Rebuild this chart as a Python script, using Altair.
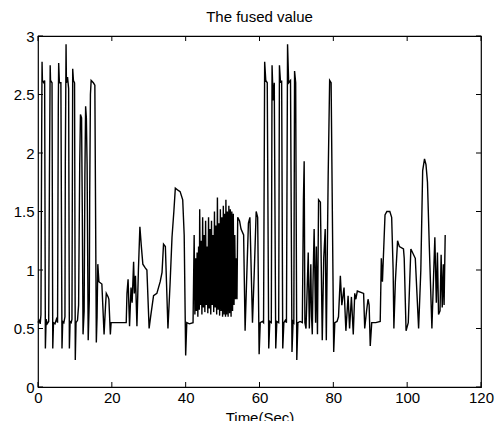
import altair as alt
import pandas as pd

# time (s) and fused value
t = [0, 0.3, 0.6, 0.8, 1.0, 1.1, 1.2, 1.6, 1.8, 2.0, 2.2, 2.5, 2.9, 3.1, 3.3, 3.4, 3.8, 4.0, 4.2, 4.6,
     5.0, 5.3, 5.5, 5.6, 5.8, 6.2, 6.5, 6.7, 7.0, 7.3, 7.4, 7.6, 7.7, 8.0, 8.3, 8.5, 8.7, 9.0, 9.2, 9.4,
     9.6, 9.9, 10.1, 10.3, 10.7, 11.0, 11.3, 11.5, 11.8, 12.0, 12.2, 12.5, 12.7, 12.9, 13.1, 13.3, 13.6,
     13.9, 14.0, 14.2, 14.4, 15.0, 15.4, 15.8, 16.0, 16.2, 16.5, 17.3, 17.9, 18.3, 18.5, 19.0, 19.2,
     19.6, 19.8, 20.5, 22.0, 23.9,
     24.1, 24.4, 24.8, 25.2, 25.5, 25.9, 26.1, 26.4, 26.8, 27.2, 27.6, 28.0, 28.4, 29.0, 29.5, 30.1,
     30.5, 31.3, 32.2, 33.1, 33.6, 34.0, 34.5, 34.8, 35.2, 35.8, 36.3, 36.8, 37.2, 38.0, 38.5, 39.2,
     39.6, 40.0, 40.3, 41.0, 42.0,
     42.3, 42.5, 42.7, 42.9, 43.1, 43.3, 43.5, 43.7, 43.8, 44.0, 44.2, 44.4, 44.6, 44.8, 45.0, 45.2,
     45.4, 45.6, 45.8, 46.0, 46.2, 46.4, 46.6, 46.8, 47.0, 47.2, 47.4, 47.6, 47.8, 48.0, 48.2, 48.4,
     48.6, 48.8, 49.0, 49.2, 49.4, 49.6, 49.8, 50.0, 50.2, 50.4, 50.6, 50.8, 50.9, 51.1, 51.3, 51.5,
     51.7, 51.9, 52.1, 52.3, 52.5, 52.7, 52.9, 53.1, 53.3, 53.5, 53.7, 53.9, 54.1, 54.6, 55.0, 55.7,
     56.1, 56.5, 57.0, 57.4, 58.1, 58.6, 59.1, 59.5, 59.9, 60.2, 60.8, 61.1,
     61.4, 61.7, 62.1, 62.5, 62.8, 63.2, 63.4, 63.7, 64.0, 64.4, 64.7, 65.2, 65.4, 65.7, 66.0, 66.3,
     66.6, 67.0, 67.3, 67.6, 67.9, 68.4, 68.8, 69.1, 69.3, 69.5, 69.8, 70.1, 70.4, 71.0, 71.6, 71.9,
     72.1, 72.3, 72.6, 73.2, 73.5, 73.9, 74.1, 74.3, 74.5, 74.8, 75.2, 75.4, 75.7, 76.0, 76.5, 77.0,
     77.4, 77.8, 78.1, 78.6, 79.0, 79.4, 80.1,
     80.4, 81.0, 81.4, 81.9, 82.3, 82.9, 83.4, 84.0, 84.4, 84.9, 85.4, 85.8, 86.1, 86.5, 88.2, 88.5,
     89.0, 89.4, 89.7, 90.0, 90.4, 91.5, 92.7, 93.0, 93.3, 94.0, 94.5, 95.3, 95.8, 96.2, 96.4, 96.8,
     97.4, 97.9, 99.0, 99.2, 99.7, 100.3, 101.0, 102.2, 103.1, 103.7, 104.2, 104.7, 105.1, 105.5,
     106.0, 106.7, 107.0, 107.5, 107.9, 108.2, 108.5, 108.9, 109.2, 109.5, 109.8, 110.0, 110.3]

v = [0.55, 0.57, 0.54, 0.62, 2.2, 2.78, 2.62, 2.6, 2.62, 0.33, 0.58, 0.54, 0.56, 1.8, 2.75, 2.62, 2.6, 0.33, 0.55, 0.54,
     0.58, 0.55, 2.4, 2.77, 2.6, 2.6, 0.33, 0.56, 0.55, 0.6, 1.9, 2.93, 2.6, 2.65, 2.55, 0.33, 0.56, 0.55, 0.58, 2.72,
     2.62, 2.6, 0.23, 0.55, 0.57, 0.7, 1.9, 2.33, 2.3, 1.5, 0.45, 0.65, 1.8, 2.4, 2.3, 1.9, 0.4,
     0.75, 1.6, 2.5, 2.62, 2.6, 2.58, 0.38, 0.6, 1.05, 0.9, 0.88, 0.45, 0.7, 0.8, 0.77, 0.75,
     0.45, 0.55, 0.55, 0.55, 0.55,
     0.8, 0.92, 0.52, 0.85, 0.72, 1.07, 0.8, 0.95, 0.52, 1.0, 1.37, 1.2, 1.05, 1.02, 1.0, 0.5,
     0.6, 0.78, 0.8, 0.9, 0.98, 1.22, 1.2, 0.9, 0.5, 0.9, 1.28, 1.5, 1.7, 1.68, 1.67, 1.6,
     1.3, 0.27, 0.55, 0.54, 0.55,
     1.3, 0.62, 1.1, 0.65, 1.15, 0.6, 1.2, 0.66, 1.52, 0.7, 1.25, 0.62, 1.45, 0.68, 1.3, 0.64,
     1.42, 0.7, 1.2, 0.63, 1.45, 0.67, 1.35, 0.62, 1.42, 0.7, 1.3, 0.64, 1.5, 0.68, 1.38, 0.62,
     1.62, 0.66, 1.4, 0.61, 1.52, 0.65, 1.45, 0.6, 1.55, 0.62, 1.48, 0.6, 1.6, 0.62, 1.5, 0.6,
     1.55, 0.63, 1.52, 0.6, 1.5, 0.65, 1.48, 0.7, 1.3, 0.75, 1.1, 0.75, 1.45, 1.42, 1.35, 1.3,
     0.48, 0.9, 1.4, 1.45, 0.55, 1.0, 1.5, 1.45, 0.28, 0.55, 0.56, 0.55,
     2.78, 2.62, 2.6, 0.33, 0.56, 0.55, 2.75, 2.45, 2.6, 0.33, 0.56, 0.55, 2.75, 2.6, 2.62, 0.33,
     0.55, 0.57, 0.55, 2.93, 2.6, 2.62, 0.3, 0.56, 0.55, 2.7, 2.6, 0.23, 0.55, 0.56, 0.55, 1.6,
     1.93, 0.55, 0.5, 1.15, 0.5, 1.05, 0.6, 0.45, 0.9, 1.35, 0.55, 1.2, 0.45, 1.6, 1.58, 0.4,
     1.1, 1.35, 0.4, 1.8, 2.62, 2.6, 0.3,
     0.55, 0.56, 0.6, 0.95, 0.7, 0.85, 0.48, 0.78, 0.5, 0.77, 0.45, 0.8, 0.75, 0.82, 0.8, 0.5,
     0.65, 0.75, 0.7, 0.35, 0.55, 0.55, 0.56, 1.1, 0.9, 1.47, 1.5, 1.5, 1.45, 1.0, 0.5, 0.9,
     1.25, 1.2, 1.18, 1.1, 0.48, 0.55, 1.18, 1.1, 0.5, 1.0, 1.85, 1.95, 1.9, 1.75,
     1.2, 0.5, 0.8, 1.28, 0.72, 1.15, 0.62, 0.65, 1.13, 0.68, 1.05, 0.7, 1.3]

x_ticks = [0, 20, 40, 60, 80, 100, 120]
y_ticks = [0, 0.5, 1, 1.5, 2, 2.5, 3]

W, H = 443, 351
FONT = "Liberation Sans"

df = pd.DataFrame({"t": t, "v": v})
dfx = pd.DataFrame({"xt": x_ticks})
dfy = pd.DataFrame({"yt": y_ticks})

xscale = alt.Scale(domain=[0, 120], nice=False, zero=False)
yscale = alt.Scale(domain=[0, 3], nice=False, zero=False)

xaxis = alt.Axis(values=x_ticks, format="d", ticks=False, tickSize=0, domain=False, grid=False,
                 labelFontSize=15, labelFont=FONT, labelColor="black", labelPadding=3,
                 title="Time(Sec)", titleFont=FONT, titleFontSize=15, titleFontWeight="normal",
                 titleColor="black", titlePadding=5, labelFlush=False)
yaxis = alt.Axis(values=y_ticks, ticks=False, tickSize=0, domain=False, grid=False,
                 labelFontSize=15, labelFont=FONT, labelColor="black", labelPadding=4,
                 title=None, labelExpr="datum.value", labelFlush=False)

line = alt.Chart(df).mark_line(color="black", strokeWidth=1.4).encode(
    x=alt.X("t:Q", scale=xscale, axis=xaxis),
    y=alt.Y("v:Q", scale=yscale, axis=yaxis),
)

tick_len = 5
xb = alt.Chart(dfx).mark_rule(color="black", strokeWidth=1).encode(
    x=alt.X("xt:Q", scale=xscale), y=alt.value(H), y2=alt.value(H - tick_len))
xt = alt.Chart(dfx).mark_rule(color="black", strokeWidth=1).encode(
    x=alt.X("xt:Q", scale=xscale), y=alt.value(0), y2=alt.value(tick_len))
yl = alt.Chart(dfy).mark_rule(color="black", strokeWidth=1).encode(
    y=alt.Y("yt:Q", scale=yscale), x=alt.value(0), x2=alt.value(tick_len))
yr = alt.Chart(dfy).mark_rule(color="black", strokeWidth=1).encode(
    y=alt.Y("yt:Q", scale=yscale), x=alt.value(W), x2=alt.value(W - tick_len))

chart = alt.layer(line, xb, xt, yl, yr).properties(
    width=W, height=H,
    title=alt.TitleParams("The fused value", font=FONT, fontSize=15, fontWeight="normal",
                          color="black", anchor="middle", offset=4),
    autosize=alt.AutoSizeParams(type="none"),
    padding={"left": 38, "top": 36, "right": 15, "bottom": 34},
    background="white",
).configure_view(stroke="black", strokeWidth=1.2)

chart.save("out.html", embed_options={"renderer": "svg", "actions": False})
